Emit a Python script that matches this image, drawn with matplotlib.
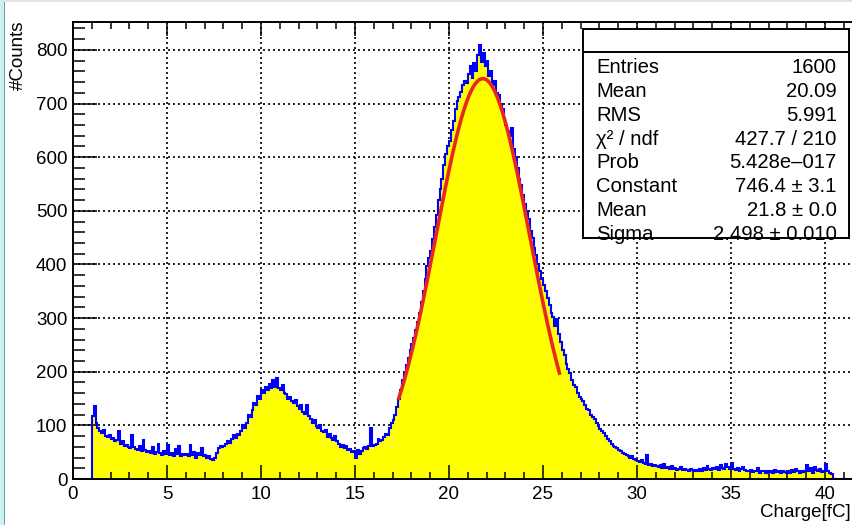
import numpy as np
import matplotlib
matplotlib.use("Agg")
import matplotlib.pyplot as plt
from matplotlib.patches import Rectangle

plt.rcParams['font.family'] = ['Liberation Sans', 'DejaVu Sans']

# ---------------- data ----------------
bin_start = 1.0
bin_width = 0.1
counts = [
    # 1.0 - 1.9
    118, 136, 104, 96, 90, 86, 92, 80, 78, 82,
    # 2
    74, 76, 70, 72, 90, 66, 70, 62, 64, 60,
    # 3
    58, 82, 60, 56, 54, 62, 52, 72, 54, 50,
    # 4
    52, 48, 60, 46, 50, 66, 48, 44, 52, 46,
    # 5
    63, 44, 48, 42, 56, 46, 62, 43, 47, 44,
    # 6
    46, 42, 64, 45, 50, 40, 48, 44, 58, 42,
    # 7
    44, 40, 42, 38, 36, 40, 48, 58, 62, 60,
    # 8
    62, 66, 70, 68, 74, 82, 76, 84, 82, 90,
    # 9
    100, 96, 104, 119, 115, 128, 141, 138, 154, 150,
    # 10
    165, 160, 172, 166, 178, 170, 185, 172, 188, 170,
    # 11
    166, 175, 160, 158, 150, 152, 146, 141, 148, 136,
    # 12
    130, 138, 125, 122, 138, 118, 112, 104, 110, 98,
    # 13
    96, 100, 90, 88, 92, 79, 84, 76, 72, 80,
    # 14
    70, 66, 60, 64, 58, 62, 54, 56, 50, 52,
    # 15
    40, 54, 46, 52, 58, 60, 56, 62, 95, 62,
    # 16
    64, 66, 74, 70, 72, 78, 84, 82, 96, 104,
    # 17
    110, 120, 135, 150, 165, 185, 198, 212, 225, 240,
    # 18
    252, 262, 278, 292, 310, 330, 350, 372, 398, 412,
    # 19
    425, 448, 470, 492, 520, 540, 560, 585, 605, 620,
    # 20
    630, 650, 668, 690, 705, 712, 722, 735, 742, 738,
    # 21
    755, 770, 748, 775, 760, 790, 810, 778, 795, 770,
    # 22
    780, 752, 760, 735, 742, 720, 715, 700, 690, 672,
    # 23
    660, 648, 640, 655, 615, 600, 580, 560, 548, 530,
    # 24
    512, 500, 485, 462, 450, 430, 418, 400, 388, 372,
    # 25
    362, 350, 338, 325, 310, 302, 285, 298, 270, 256,
    # 26
    240, 232, 215, 205, 198, 185, 175, 172, 160, 152,
    # 27
    150, 146, 138, 130, 128, 120, 116, 112, 104, 98,
    # 28
    94, 90, 86, 80, 74, 70, 66, 62, 60, 58,
    # 29
    54, 52, 48, 46, 44, 42, 40, 42, 38, 36,
    # 30
    34, 32, 36, 30, 28, 44, 26, 28, 24, 26,
    # 31
    24, 22, 26, 21, 28, 20, 22, 19, 24, 18,
    # 32
    20, 17, 18, 22, 16, 18, 17, 15, 18, 16,
    # 33
    15, 16, 14, 18, 15, 20, 16, 24, 18, 16,
    # 34
    20, 18, 22, 16, 26, 20, 18, 28, 22, 18,
    # 35
    30, 18, 16, 20, 14, 18, 22, 16, 15, 14,
    # 36
    16, 13, 15, 14, 20, 12, 14, 15, 12, 14,
    # 37
    13, 14, 12, 16, 13, 15, 12, 14, 13, 12,
    # 38
    14, 12, 16, 13, 18, 14, 12, 15, 13, 14,
    # 39
    26, 14, 20, 12, 22, 16, 14, 18, 13, 15,
    # 40
    28, 14, 12, 10,
]

# Gaussian fit parameters (from the stats box)
fit_constant = 746.4
fit_mean = 21.8
fit_sigma = 2.498
fit_range = (17.3, 25.9)

stats_labels = ["Entries", "Mean", "RMS", "\u03c7\u00b2 / ndf", "Prob",
                "Constant", "Mean", "Sigma"]
stats_values = ["1600", "20.09", "5.991", "427.7 / 210", "5.428e\u2013017",
                "746.4 \u00b1 3.1", "21.8 \u00b1 0.0", "2.498 \u00b1 0.010"]

x_label = "Charge[fC]"
y_label = "#Counts"
x_lim = (0, 41.49)
y_lim = (0, 852)

# ---------------- figure ----------------
W, H = 853, 525
fig = plt.figure(figsize=(W / 100, H / 100), dpi=100)
fig.patch.set_facecolor('white')

def fx(px):
    return px / W

def fy(py):
    return 1 - py / H

# frame decorations at the figure edges
fig.patches.append(Rectangle((0, 0), fx(4), 1, transform=fig.transFigure,
                             facecolor='#c9f2f2', edgecolor='none', zorder=-1))
fig.patches.append(Rectangle((fx(4), 0), fx(1.5), 1, transform=fig.transFigure,
                             facecolor='#7a9a9a', edgecolor='none', zorder=-1))
fig.patches.append(Rectangle((0, fy(2)), 1, fy(0) - fy(2), transform=fig.transFigure,
                             facecolor='#e4e4e4', edgecolor='none', zorder=-1))

ax_left, ax_right, ax_top, ax_bot = 73, 853, 22, 479
ax = fig.add_axes([fx(ax_left), fy(ax_bot), fx(ax_right - ax_left),
                   (ax_bot - ax_top) / H])
ax.set_xlim(*x_lim)
ax.set_ylim(*y_lim)

counts = np.asarray(counts, dtype=float)
edges = bin_start + bin_width * np.arange(len(counts) + 1)
# include empty regions on both sides so the zero line is drawn
full_edges = np.concatenate([[x_lim[0]], edges, [x_lim[1]]])
full_counts = np.concatenate([[0.0], counts, [0.0]])

ax.stairs(full_counts, full_edges, fill=True, color='#ffff00', zorder=1)
ax.stairs(full_counts, full_edges, color='#0000ff', lw=1.5, zorder=2)

xf = np.linspace(fit_range[0], fit_range[1], 300)
yf = fit_constant * np.exp(-0.5 * ((xf - fit_mean) / fit_sigma) ** 2)
ax.plot(xf, yf, color='#e8281e', lw=2.6, zorder=3, solid_capstyle='butt')

# ticks
TICK_FS = 13.5
ax.set_xticks(np.arange(0, 41, 5))
ax.set_xticks(np.arange(0, 42, 1), minor=True)
ax.set_yticks(np.arange(0, 801, 100))
ax.set_yticks(np.arange(0, 852, 20), minor=True)
ax.tick_params(axis='x', which='major', direction='in', length=10, width=1.1,
               top=True, labelsize=TICK_FS, pad=5)
ax.tick_params(axis='x', which='minor', direction='in', length=5, width=1.1,
               top=True)
ax.tick_params(axis='y', which='major', direction='in', length=17, width=1.1,
               right=False, labelsize=TICK_FS, pad=4)
ax.tick_params(axis='y', which='minor', direction='in', length=8.6, width=1.1,
               right=False)

# dotted grid beneath the histogram
for xv in np.arange(5, 41, 5):
    ax.axvline(xv, color='black', lw=1.2, ls=(0, (1.2, 1.8)), zorder=0.5)
for yv in np.arange(100, 801, 100):
    ax.axhline(yv, color='black', lw=1.2, ls=(0, (1.2, 1.8)), zorder=0.5)

for side in ['left', 'bottom', 'top']:
    ax.spines[side].set_linewidth(1.4)
    ax.spines[side].set_zorder(5)
ax.spines['right'].set_visible(False)

# axis titles
fig.text(fx(851), fy(517), x_label, ha='right', va='baseline', fontsize=TICK_FS)
fig.text(fx(18), fy(21), y_label, ha='center', va='top', rotation=90,
         fontsize=TICK_FS)

# stats box
bx0, bx1, by0, by1 = 582.7, 849, 29.3, 238
sax = fig.add_axes([fx(bx0), fy(by1), fx(bx1 - bx0), (by1 - by0) / H])
sax.set_xlim(bx0, bx1)
sax.set_ylim(by1, by0)
sax.set_xticks([])
sax.set_yticks([])
sax.set_facecolor('white')
for s in sax.spines.values():
    s.set_linewidth(1.4)
sax.plot([bx0, bx1], [52.3, 52.3], color='black', lw=1.4)
for i, (lab, val) in enumerate(zip(stats_labels, stats_values)):
    yb = 66 + i * 23.8 + 7.3
    sax.text(596, yb, lab, ha='left', va='baseline', fontsize=14.6)
    sax.text(836.7, yb, val, ha='right', va='baseline', fontsize=14.6)

fig.savefig('out.png', dpi=100)
